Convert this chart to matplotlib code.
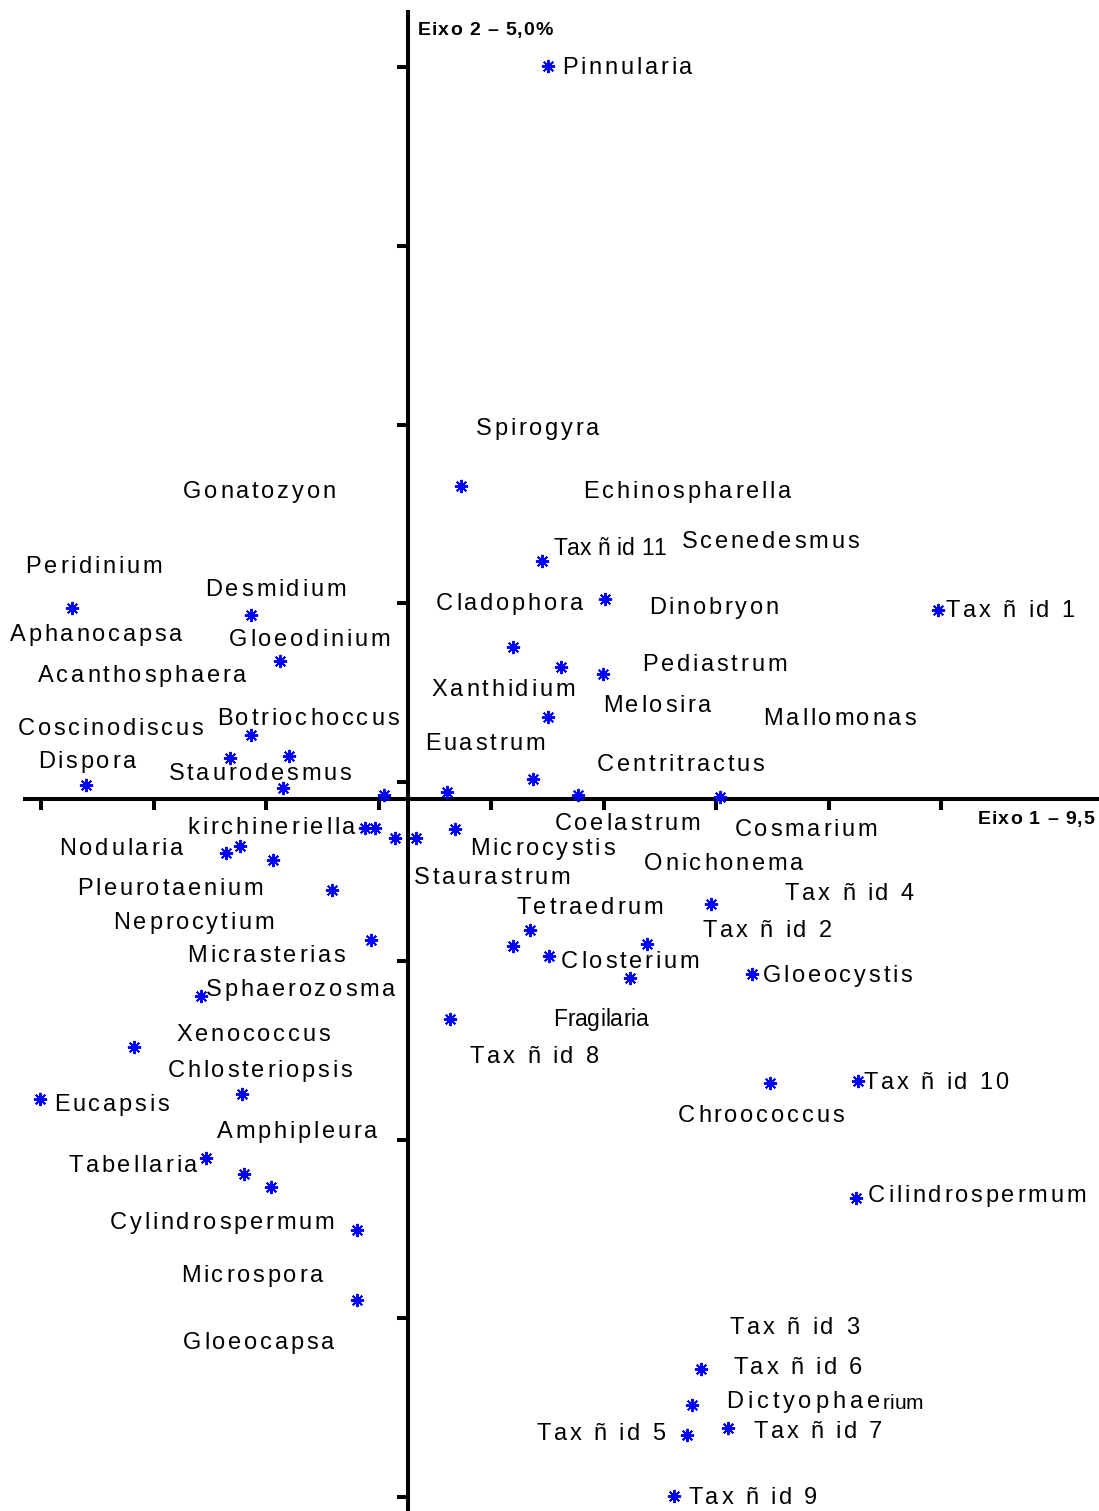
import matplotlib.pyplot as plt
from matplotlib.font_manager import FontProperties, findfont
from matplotlib.ft2font import FT2Font

plt.rcParams['font.family'] = ['Liberation Sans', 'DejaVu Sans']

# species scores (axis 1, axis 2)
ax1_scores = [1.24, 0.47, 1.19, 1.75, 4.71, 0.93, 1.36, 1.73, 1.24, 1.11, 0.35, 1.51, 2.77, -0.21,
              -2.99, -1.40, -1.14, -1.40, -1.58, -1.06, -2.86, -1.11,
              -0.38, -0.29, -0.12, 0.07, 0.42, -1.62, -1.49, -1.20, -0.68, -0.33, -1.84, -2.44,
              -3.27, -1.48, -1.80, -1.46, -1.22, -0.45, -0.45,
              2.69, 1.08, 0.93, 1.25, 2.12, 1.97, 3.06, 0.37, 3.22, 4.00, 3.98,
              2.60, 2.52, 2.48, 2.84, 2.36]
ax2_scores = [4.10, 1.75, 1.33, 1.12, 1.06, 0.85, 0.74, 0.70, 0.46, 0.11, 0.04, 0.02, 0.01, 0.02,
              1.07, 1.03, 0.77, 0.36, 0.23, 0.24, 0.08, 0.06,
              -0.16, -0.16, -0.22, -0.22, -0.17, -0.30, -0.26, -0.34, -0.51, -0.79, -1.10, -1.39,
              -1.68, -1.65, -2.01, -2.10, -2.17, -2.41, -2.80,
              -0.59, -0.73, -0.82, -0.88, -0.81, -1.00, -0.98, -1.23, -1.59, -1.58, -2.23,
              -3.19, -3.39, -3.56, -3.52, -3.90]

# labels, placed where they sit in the figure (axis units)
names = ['Pinnularia', 'Spirogyra', 'Gonatozyon', 'Echinospharella', 'Scenedesmus',
         'Peridinium', 'Desmidium', 'Cladophora', 'Dinobryon', 'Tax ñ id 1', 'Aphanocapsa',
         'Gloeodinium', 'Pediastrum', 'Acanthosphaera', 'Xanthidium', 'Melosira',
         'Botriochoccus', 'Mallomonas', 'Coscinodiscus', 'Euastrum', 'Dispora',
         'Centritractus', 'Staurodesmus', 'Coelastrum', 'Cosmarium', 'kirchineriella',
         'Nodularia', 'Microcystis', 'Onichonema', 'Staurastrum', 'Pleurotaenium',
         'Tax ñ id 4', 'Tetraedrum', 'Neprocytium', 'Tax ñ id 2', 'Micrasterias',
         'Closterium', 'Gloeocystis', 'Sphaerozosma', 'Xenococcus', 'Tax ñ id 8',
         'Chlosteriopsis', 'Tax ñ id 10', 'Eucapsis', 'Chroococcus', 'Amphipleura',
         'Tabellaria', 'Cilindrospermum', 'Cylindrospermum', 'Microspora', 'Tax ñ id 3',
         'Gloeocapsa', 'Tax ñ id 6', 'Tax ñ id 7', 'Tax ñ id 5', 'Tax ñ id 9']
name_x = [1.37, 0.60, -2.00, 1.56, 2.43, -3.40, -1.80, 0.25, 2.14, 4.78, -3.54,
          -1.59, 2.08, -3.29, 0.21, 1.73, -1.70, 3.16, -3.47, 0.15, -3.29,
          1.68, -2.13, 1.30, 2.90, -1.96, -3.10, 0.55, 2.10, 0.05, -2.94,
          3.35, 0.96, -2.62, 2.62, -1.96, 1.36, 3.15, -1.80, -2.06, 0.55,
          -2.14, 4.05, -3.15, 2.40, -1.70, -3.02, 4.09, -2.65, -2.02, 2.86,
          -2.00, 2.89, 3.07, 1.14, 2.49]
name_y = [4.10, 2.08, 1.73, 1.73, 1.45, 1.31, 1.18, 1.10, 1.08, 1.06, 0.93,
          0.90, 0.76, 0.70, 0.62, 0.53, 0.46, 0.46, 0.40, 0.32, 0.22,
          0.20, 0.15, -0.13, -0.16, -0.15, -0.27, -0.27, -0.35, -0.43, -0.49,
          -0.52, -0.60, -0.68, -0.73, -0.87, -0.90, -0.98, -1.06, -1.31, -1.43,
          -1.51, -1.58, -1.70, -1.76, -1.85, -2.04, -2.21, -2.36, -2.66, -2.95,
          -3.03, -3.17, -3.53, -3.54, -3.90]
# labels typed differently
odd_names = ['Tax ñ id 11', 'Fragilaria', 'Dictyophae', 'rium']
odd_x = [1.29, 1.29, 2.83, 4.22]
odd_y = [1.41, -1.22, -3.36, -3.37]
odd_size = [16.5, 16.5, 17, 15]
odd_track = [0.0, 0.0, 3.9, 0.0]

x_ticks = [-3.262 + k for k in range(9)]
y_ticks = [4.095 - k for k in range(9)]

DPI = 100
fig = plt.figure(figsize=(10.99, 15.11), dpi=DPI)
ax = fig.add_axes([0, 0, 1, 1])
ax.set_xlim(-3.627, 6.142)
ax.set_ylim(-3.983, 4.470)

regular = FT2Font(findfont(FontProperties(family='Liberation Sans')))
bold = FT2Font(findfont(FontProperties(family='Liberation Sans', weight='bold')))


def spaced_text(x, y, s, size, track, font=regular, weight='normal'):
    # letter-spaced label: one glyph at a time, advance + track (pixels)
    font.set_size(size, DPI)
    off = 0.0
    for c in s:
        ax.annotate(c, (x, y), xytext=(off * 72 / DPI, -1.4), textcoords='offset points',
                    fontsize=size, fontweight=weight, ha='left', va='center')
        g = font.load_char(ord(c))
        off += g.linearHoriAdvance / 65536 + track


for s in ['top', 'right']:
    ax.spines[s].set_visible(False)
ax.spines['bottom'].set_position(('data', 0))
ax.spines['left'].set_position(('data', 0))
ax.spines['bottom'].set_bounds(-3.404, 6.142)
ax.spines['left'].set_bounds(-3.983, 4.403)
for s in ['bottom', 'left']:
    ax.spines[s].set_linewidth(2.9)
ax.set_xticks(x_ticks)
ax.set_yticks(y_ticks)
ax.tick_params(direction='out', length=8, width=2.9, labelbottom=False, labelleft=False)

ax.plot(ax1_scores, ax2_scores, linestyle='none', marker=(8, 2, 0), markersize=9.5,
        markeredgewidth=1.4, color='#0000ff', zorder=3)

for n, x, y in zip(names, name_x, name_y):
    spaced_text(x, y, n, 17, 2.8)
for n, x, y, sz, tr in zip(odd_names, odd_x, odd_y, odd_size, odd_track):
    spaced_text(x, y, n, sz, tr)

spaced_text(0.089, 4.313, 'Eixo 2 – 5,0%', 14, 0.9, font=bold, weight='bold')
spaced_text(5.067, -0.106, 'Eixo 1 – 9,5', 14, 0.9, font=bold, weight='bold')

fig.savefig('out.png', dpi=DPI)
